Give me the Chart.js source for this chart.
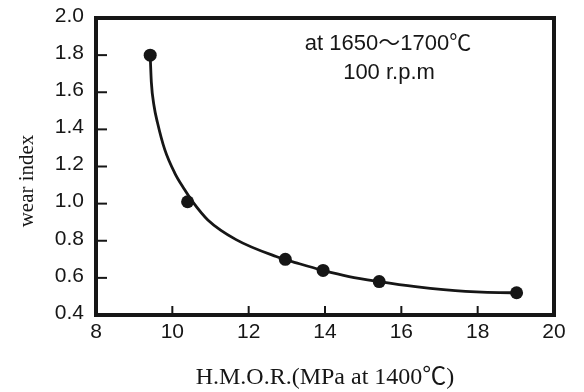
<!DOCTYPE html>
<html>
<head>
<meta charset="utf-8">
<script src="https://cdn.jsdelivr.net/npm/chart.js@4.4.1/dist/chart.umd.min.js"></script>
<style>
  html, body { margin: 0; padding: 0; background: #fff; }
  #wrap { width: 584px; height: 392px; }
</style>
</head>
<body>
<div id="wrap"><canvas id="chart"></canvas></div>
<script>
// measured points
const xValues = [9.42, 10.4, 12.96, 13.95, 15.42, 19.02];
const yValues = [1.80, 1.01, 0.70, 0.64, 0.58, 0.52];

// fitted curve
const curveX = [9.42, 9.45, 9.52, 9.61, 9.80, 10.06, 10.32, 10.55, 10.93, 11.67, 12.72, 13.33, 13.95, 14.63, 15.42, 16.37, 17.68, 18.89, 19.02];
const curveY = [1.80, 1.655, 1.527, 1.437, 1.292, 1.166, 1.076, 1.005, 0.912, 0.806, 0.715, 0.676, 0.64, 0.607, 0.58, 0.553, 0.527, 0.52, 0.52];

const xTicks = [8, 10, 12, 14, 16, 18, 20];
const yTicks = [0.4, 0.6, 0.8, 1.0, 1.2, 1.4, 1.6, 1.8, 2.0];

const noteLines = ['at 1650～1700℃', '100 r.p.m'];
const xTitle = 'H.M.O.R.(MPa at 1400℃)';
const yTitle = 'wear index';

const ink = '#161616';
const sans = '"Liberation Sans", Arial, "Noto Sans CJK JP", sans-serif';
const serif = '"Liberation Serif", "Times New Roman", "Noto Sans CJK KR", serif';

// frame, inner ticks, y title and the note
const framePlugin = {
    id: 'frame',
    afterDatasetsDraw(chart) {
        const { ctx, chartArea: a, scales } = chart;
        ctx.save();
        ctx.strokeStyle = ink;
        ctx.lineWidth = 2;
        yTicks.forEach(v => {
            const y = scales.y.getPixelForValue(v);
            ctx.beginPath();
            ctx.moveTo(a.left, y);
            ctx.lineTo(a.left + 11, y);
            ctx.stroke();
        });
        xTicks.forEach(v => {
            const x = scales.x.getPixelForValue(v);
            ctx.beginPath();
            ctx.moveTo(x, a.bottom);
            ctx.lineTo(x, a.bottom - 9);
            ctx.stroke();
        });
        ctx.lineWidth = 4;
        ctx.strokeRect(a.left, a.top, a.right - a.left, a.bottom - a.top);

        ctx.fillStyle = ink;
        ctx.font = '22px ' + sans;
        ctx.textAlign = 'center';
        ctx.textBaseline = 'middle';
        ctx.fillText(noteLines[0], 388, 44);
        ctx.fillText(noteLines[1], 389, 73);

        ctx.translate(27, 181);
        ctx.rotate(-Math.PI / 2);
        ctx.font = '21px ' + serif;
        ctx.fillText(yTitle, 0, 0);
        ctx.restore();
    }
};

new Chart(document.getElementById('chart'), {
    type: 'scatter',
    data: {
        datasets: [
            {
                label: 'curve',
                data: curveX.map((x, i) => ({ x: x, y: curveY[i] })),
                showLine: true,
                cubicInterpolationMode: 'monotone',
                borderColor: ink,
                borderWidth: 2.8,
                pointRadius: 0
            },
            {
                label: yTitle,
                data: xValues.map((x, i) => ({ x: x, y: yValues[i] })),
                backgroundColor: ink,
                borderColor: ink,
                pointRadius: 6.5,
                pointBorderWidth: 0
            }
        ]
    },
    options: {
        responsive: true,
        maintainAspectRatio: false,
        animation: false,
        layout: { padding: { top: 18, right: 30, left: 0, bottom: 0 } },
        plugins: {
            legend: { display: false },
            tooltip: { enabled: false }
        },
        scales: {
            x: {
                type: 'linear',
                min: 8,
                max: 20,
                afterBuildTicks: s => { s.ticks = xTicks.map(v => ({ value: v })); },
                afterFit: s => { s.height = 77; s.paddingLeft = 0; s.paddingRight = 0; },
                grid: { display: false, drawTicks: false, tickLength: 0 },
                border: { display: false },
                ticks: { color: ink, font: { family: sans, size: 21 }, padding: 5 },
                title: {
                    display: true,
                    text: xTitle,
                    color: ink,
                    font: { family: serif, size: 24 },
                    padding: { top: 0, bottom: 0 }
                }
            },
            y: {
                type: 'linear',
                min: 0.4,
                max: 2.0,
                afterBuildTicks: s => { s.ticks = yTicks.map(v => ({ value: v })); },
                afterFit: s => { s.width = 96; s.paddingTop = 0; s.paddingBottom = 0; },
                grid: { display: false, drawTicks: false, tickLength: 0 },
                border: { display: false },
                ticks: {
                    color: ink,
                    font: { family: sans, size: 21 },
                    padding: 12,
                    labelOffset: -2,
                    callback: v => v.toFixed(1)
                }
            }
        }
    },
    plugins: [framePlugin]
});
</script>
</body>
</html>
